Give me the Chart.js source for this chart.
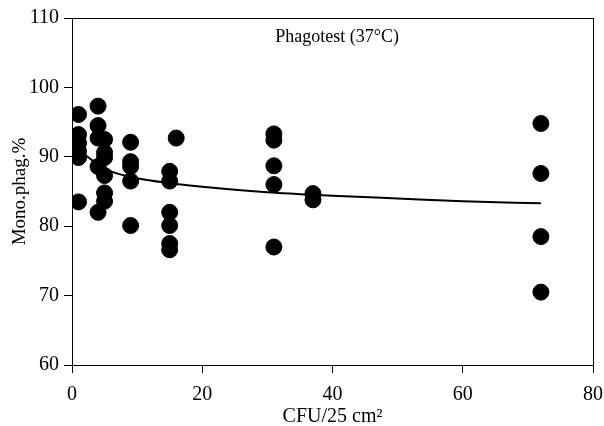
<!DOCTYPE html>
<html>
<head>
<meta charset="utf-8">
<script src="https://cdn.jsdelivr.net/npm/chart.js@4"></script>
<style>
  html, body { margin: 0; padding: 0; background: #fff; }
  #wrap { width: 604px; height: 426px; }
</style>
</head>
<body>
<div id="wrap"><canvas id="phagChart" width="604" height="426"></canvas></div>
<script>
// measured points (CFU per 25 cm2 vs monocyte phagocytosis %)
const cfu = [1, 1, 1, 1, 1, 1, 4, 4, 4, 4, 4, 5, 5, 5, 5, 5, 5, 9, 9, 9, 9, 9,
  15, 15, 15, 15, 15, 15, 16, 31, 31, 31, 31, 31, 37, 37, 72, 72, 72, 72];
const phag = [96.1, 93.2, 92.0, 90.8, 89.9, 83.5, 97.3, 94.5, 92.7, 88.6, 82.0,
  92.5, 90.6, 89.9, 87.3, 84.8, 83.6, 92.1, 89.3, 88.6, 86.5, 80.1,
  87.9, 86.5, 82.0, 80.1, 77.5, 76.6, 92.7, 93.3, 92.4, 88.7, 86.0, 77.0,
  84.7, 83.8, 94.8, 87.6, 78.5, 70.5];

// fitted curve
const fitX = [1, 2, 4, 6, 10, 15, 20, 30, 40, 50, 60, 72];
const fitY = [91.1, 90.3, 88.9, 87.9, 86.9, 86.2, 85.7, 84.9, 84.4, 84.0, 83.6, 83.3];

const xTicks = [0, 20, 40, 60, 80];
const yTicks = [60, 70, 80, 90, 100, 110];
const chartLabel = 'Phagotest (37\u00b0C)';

const serif = 'Liberation Serif, Times New Roman, serif';

// box around the plot + label inside
const framePlugin = {
  id: 'frame',
  afterDraw(chart) {
    const { ctx, chartArea, scales } = chart;
    ctx.save();
    ctx.strokeStyle = '#000';
    ctx.lineWidth = 1;
    ctx.strokeRect(chartArea.left + 0.5, chartArea.top + 0.5,
      chartArea.right - chartArea.left, chartArea.bottom - chartArea.top);
    ctx.fillStyle = '#000';
    ctx.font = '18px ' + serif;
    ctx.textAlign = 'center';
    ctx.textBaseline = 'middle';
    ctx.fillText(chartLabel, scales.x.getPixelForValue(40.7), chartArea.top + 19);
    ctx.restore();
  }
};

new Chart(document.getElementById('phagChart'), {
  type: 'scatter',
  data: {
    datasets: [
      {
        label: 'data',
        data: cfu.map((c, i) => ({ x: c, y: phag[i] })),
        backgroundColor: '#000',
        borderColor: '#000',
        pointRadius: 8,
        pointHoverRadius: 8
      },
      {
        label: 'fit',
        data: fitX.map((c, i) => ({ x: c, y: fitY[i] })),
        showLine: true,
        borderColor: '#000',
        borderWidth: 2,
        pointRadius: 0,
        cubicInterpolationMode: 'monotone'
      }
    ]
  },
  options: {
    responsive: false,
    animation: false,
    events: [],
    layout: { padding: { top: 18, right: 11, left: 0, bottom: 0 } },
    plugins: {
      legend: { display: false },
      tooltip: { enabled: false }
    },
    scales: {
      x: {
        type: 'linear',
        min: 0,
        max: 80,
        afterBuildTicks: (scale) => { scale.ticks = xTicks.map(v => ({ value: v })); },
        afterFit: (scale) => {
          scale.height = 61;
          scale.paddingLeft = 0;
          scale.paddingRight = 0;
        },
        grid: { display: true, drawOnChartArea: false, tickLength: 8, color: '#000' },
        border: { color: '#000', width: 1 },
        ticks: { color: '#000', font: { family: serif, size: 20 }, padding: 10, maxRotation: 0 },
        title: {
          display: true,
          text: 'CFU/25 cm\u00b2',
          color: '#000',
          font: { family: serif, size: 20 },
          padding: { top: 0, bottom: -3 }
        }
      },
      y: {
        type: 'linear',
        min: 60,
        max: 110,
        afterBuildTicks: (scale) => { scale.ticks = yTicks.map(v => ({ value: v })); },
        afterFit: (scale) => {
          scale.width = 72;
          scale.paddingTop = 0;
          scale.paddingBottom = 0;
        },
        grid: { display: true, drawOnChartArea: false, tickLength: 8, color: '#000' },
        border: { color: '#000', width: 1 },
        ticks: { color: '#000', font: { family: serif, size: 20 }, padding: 5 },
        title: {
          display: true,
          text: 'Mono.phag.%',
          color: '#000',
          font: { family: serif, size: 19 },
          padding: { top: 9, bottom: 0 }
        }
      }
    }
  },
  plugins: [framePlugin]
});
</script>
</body>
</html>
